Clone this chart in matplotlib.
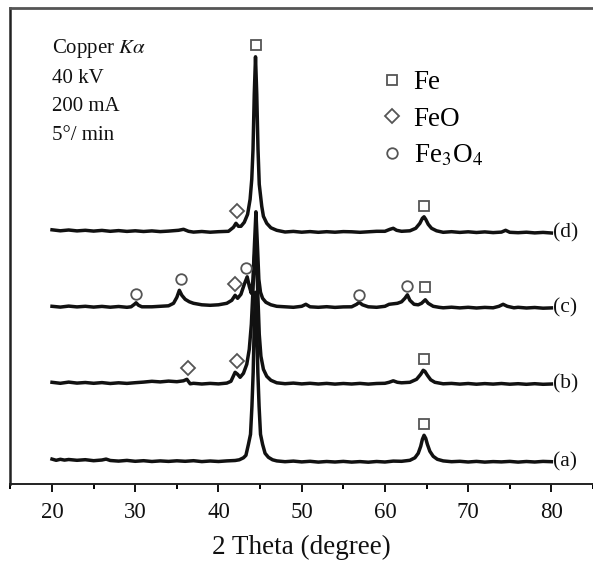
import matplotlib
matplotlib.use("Agg")
import matplotlib.pyplot as plt
from matplotlib.lines import Line2D
import numpy as np

plt.rcParams['font.family'] = ['Liberation Serif', 'DejaVu Serif']
plt.rcParams['mathtext.fontset'] = 'stix'

# ---------------- data (2theta in degrees, intensity in arbitrary units) ----------------
a_x = [20.0, 20.5, 21.0, 21.5, 22.0, 23.0, 24.0, 25.0, 26.0, 26.5, 27.0, 28.0, 29.0, 30.0,
       31.0, 32.0, 33.0, 34.0, 35.0, 36.0, 37.0, 38.0, 39.0, 40.0, 41.0, 42.0, 42.5, 43.0,
       43.3, 43.6, 43.85, 44.02, 44.17, 44.3, 44.45, 44.6, 44.73, 44.88, 45.05, 45.3, 45.6,
       46.0, 46.5, 47.0, 48.0, 49.0, 50.0, 51.0, 52.0, 53.0, 54.0, 55.0, 56.0, 57.0, 58.0,
       59.0, 60.0, 61.0, 62.0, 63.0, 63.6, 64.0, 64.3, 64.5, 64.7, 64.9, 65.1, 65.4, 65.8,
       66.3, 67.0, 68.0, 69.0, 70.0, 71.0, 72.0, 73.0, 74.0, 75.0, 76.0, 77.0, 78.0, 79.0, 80.0]
a_y = [25.2, 24.0, 25.0, 24.2, 24.8, 24.0, 24.6, 23.6, 24.3, 25.2, 23.8, 23.2, 23.9, 23.0,
       23.6, 22.8, 23.4, 22.9, 23.5, 23.0, 23.6, 22.7, 23.3, 22.8, 23.4, 23.8, 24.5, 26.5,
       29.0, 40.0, 50.0, 78.0, 112.0, 160.0, 192.0, 160.0, 112.0, 78.0, 50.0, 40.0, 31.0,
       27.0, 24.5, 23.4, 22.6, 23.2, 22.4, 23.0, 22.2, 22.8, 22.3, 22.9, 22.2, 22.7, 22.1,
       22.8, 22.3, 23.2, 23.0, 24.0, 26.5, 31.0, 38.0, 45.0, 49.0, 46.0, 40.0, 33.0, 28.0,
       25.0, 23.4, 22.6, 23.0, 22.3, 22.9, 22.2, 22.7, 22.4, 22.9, 22.2, 22.8, 22.3, 22.9, 22.6]

b_x = [20.0, 21.0, 22.0, 23.0, 24.0, 25.0, 26.0, 27.0, 28.0, 29.0, 30.0, 31.0, 32.0, 33.0,
       34.0, 35.0, 35.8, 36.2, 36.6, 37.0, 38.0, 39.0, 40.0, 41.0, 41.5, 42.0, 42.3, 42.6,
       43.0, 43.4, 43.7, 43.95, 44.15, 44.3, 44.45, 44.6, 44.75, 44.9, 45.1, 45.4, 45.8,
       46.3, 47.0, 48.0, 49.0, 50.0, 51.0, 52.0, 53.0, 54.0, 55.0, 56.0, 57.0, 58.0, 59.0,
       60.0, 60.5, 61.0, 61.5, 62.0, 63.0, 63.8, 64.3, 64.6, 64.8, 65.1, 65.5, 66.0, 67.0,
       68.0, 69.0, 70.0, 71.0, 72.0, 73.0, 74.0, 75.0, 76.0, 77.0, 78.0, 79.0, 80.0]
b_y = [102.0, 101.0, 102.2, 101.2, 101.8, 101.0, 101.7, 100.8, 101.5, 100.9, 101.6, 102.2, 103.0, 102.4,
       103.2, 102.6, 103.5, 105.0, 100.5, 101.0, 100.3, 100.9, 100.4, 101.2, 103.0, 112.0, 110.0, 107.0,
       111.0, 120.0, 135.0, 160.0, 195.0, 225.0, 240.0, 220.0, 185.0, 150.0, 128.0, 115.0, 108.0,
       104.0, 101.5, 100.6, 101.2, 100.4, 101.0, 100.3, 100.9, 100.2, 100.8, 100.3, 100.9, 100.2, 100.8,
       101.0, 102.0, 103.5, 102.0, 101.5, 102.0, 105.0, 110.0, 114.0, 113.0, 109.0, 104.5, 102.0, 100.5,
       100.9, 100.2, 100.8, 100.1, 100.7, 100.2, 100.8, 100.1, 100.6, 100.0, 100.6, 100.0, 100.3]

c_x = [20.0, 21.0, 22.0, 23.0, 24.0, 25.0, 26.0, 27.0, 28.0, 29.0, 29.5, 29.9, 30.1, 30.4,
       30.8, 32.0, 33.0, 34.0, 34.6, 35.0, 35.3, 35.6, 36.0, 36.5, 37.0, 38.0, 39.0, 40.0,
       41.0, 41.6, 42.0, 42.3, 42.7, 43.1, 43.45, 43.7, 43.95, 44.15, 44.3, 44.5, 44.7, 44.85,
       45.05, 45.3, 45.7, 46.3, 47.0, 48.0, 49.0, 50.0, 50.5, 51.0, 52.0, 53.0, 54.0, 55.0,
       56.0, 56.6, 56.9, 57.3, 58.0, 59.0, 60.0, 60.5, 61.0, 61.5, 62.0, 62.4, 62.7, 63.0,
       63.5, 64.0, 64.4, 64.85, 65.2, 65.8, 66.5, 67.0, 68.0, 69.0, 70.0, 71.0, 72.0, 73.0,
       73.7, 74.2, 74.7, 75.5, 76.0, 77.0, 78.0, 79.0, 80.0]
c_y = [178.0, 177.2, 178.2, 177.4, 178.0, 177.2, 177.9, 177.1, 177.8, 177.0, 177.5, 180.0, 181.5, 179.0,
       177.5, 177.5, 178.0, 178.5, 181.0, 187.0, 194.0, 189.0, 185.0, 182.5, 181.0, 179.5, 179.0, 179.5,
       181.0, 184.0, 189.0, 186.0, 190.0, 200.0, 207.5, 198.0, 191.0, 205.0, 235.0, 272.5, 235.0, 205.0,
       192.0, 186.0, 182.0, 179.5, 178.0, 177.5, 177.0, 178.0, 180.0, 177.5, 177.0, 177.6, 176.9, 177.4,
       177.5, 180.0, 182.0, 179.5, 177.5, 177.0, 178.0, 180.0, 180.5, 181.0, 182.5, 186.0, 189.5, 184.0,
       180.0, 179.5, 181.0, 184.5, 181.0, 178.0, 177.0, 176.5, 177.1, 176.4, 177.0, 176.3, 176.9, 176.5,
       178.0, 180.0, 178.0, 176.5, 177.0, 176.3, 176.8, 176.1, 176.4]

d_x = [20.0, 21.0, 22.0, 23.0, 24.0, 25.0, 26.0, 27.0, 28.0, 29.0, 30.0, 31.0, 32.0, 33.0,
       34.0, 35.2, 35.8, 36.4, 37.0, 38.0, 39.0, 40.0, 41.2, 41.8, 42.1, 42.4, 42.7, 43.1,
       43.5, 43.8, 44.0, 44.15, 44.3, 44.45, 44.6, 44.75, 44.9, 45.2, 45.4, 45.8, 46.3, 47.0,
       48.0, 49.0, 50.0, 51.0, 52.0, 53.0, 54.0, 55.0, 56.0, 57.0, 58.0, 59.0, 60.0, 60.6,
       61.0, 61.4, 62.0, 63.0, 63.7, 64.2, 64.5, 64.7, 64.9, 65.2, 65.6, 66.2, 67.0, 68.0,
       69.0, 70.0, 71.0, 72.0, 73.0, 74.0, 74.5, 75.0, 76.0, 77.0, 78.0, 79.0, 80.0]
d_y = [254.5, 253.5, 254.3, 253.4, 254.0, 253.2, 253.9, 253.0, 253.7, 252.9, 253.5, 252.8, 253.4, 252.7,
       253.2, 254.0, 255.0, 253.0, 252.2, 252.8, 252.1, 252.6, 253.0, 257.0, 261.0, 258.0, 258.0, 262.0,
       270.0, 285.0, 305.0, 335.0, 390.0, 427.5, 390.0, 335.0, 300.0, 278.0, 268.0, 261.0, 256.5, 254.0,
       252.3, 252.9, 252.1, 252.7, 252.0, 252.6, 252.1, 252.7, 252.5, 252.0, 252.5, 253.0, 253.0, 255.0,
       256.0, 254.0, 253.0, 253.5, 256.0, 261.0, 266.0, 267.5, 265.0, 260.0, 256.0, 253.5, 252.0, 252.6,
       251.9, 252.5, 251.8, 252.4, 251.7, 252.2, 254.0, 252.0, 251.6, 252.1, 251.4, 251.9, 251.3]

curves = [(a_x, a_y, '(a)'), (b_x, b_y, '(b)'), (c_x, c_y, '(c)'), (d_x, d_y, '(d)')]

# phase markers: (2theta, intensity) for each phase
fe_x = [44.49, 64.75, 64.87, 64.70, 64.68]
fe_y = [439.3, 278.3, 197.0, 125.3, 60.0]
feo_x = [42.2, 42.04, 36.31, 42.2]
feo_y = [273.8, 200.8, 116.6, 123.8]
fe3o4_x = [30.1, 35.44, 43.32, 56.9, 62.68]
fe3o4_y = [190.3, 205.8, 216.8, 189.3, 198.3]

phase_labels = ['Fe', 'FeO', r'Fe$_3$O$_4$']
info_lines = [r'Copper $K\alpha$', '40 kV', '200 mA', '5°/ min']

xticks = [20, 30, 40, 50, 60, 70, 80]
xminor = [15, 25, 35, 45, 55, 65, 75, 85]

# ---------------- figure ----------------
W, H = 593, 561
fig = plt.figure(figsize=(W / 100, H / 100), dpi=100)
ax_left, ax_right, ax_top, ax_bot = 10.4, 593.0, 8.3, 484.3
ax = fig.add_axes([ax_left / W, (H - ax_bot) / H, (ax_right - ax_left) / W, (ax_bot - ax_top) / H])

line_color = '#111111'
for xs, ys, lab in curves:
    ax.plot(xs, ys, color=line_color, lw=2.5, solid_joinstyle='round')
    ax.text(80.15, ys[-1], lab, fontsize=15.5, ha='left', va='center', color='#111111')

mk = dict(ls='none', mfc='none', mec='#555555', mew=1.3)
ax.plot(fe_x, fe_y, marker='s', ms=7.6, **mk)
ax.plot(feo_x, feo_y, marker='D', ms=6.8, **mk)
ax.plot(fe3o4_x, fe3o4_y, marker='o', ms=7.6, **mk)

ax.set_xlim(15.0, 20 + (ax_right - 52.3) / 8.383)
ax.set_ylim(0, ax_bot - ax_top)
ax.set_xticks(xticks)
ax.set_xticks(xminor, minor=True)
ax.set_yticks([])
ax.tick_params(axis='x', which='major', direction='out', length=6, width=1.4,
               labelsize=16.5, pad=6.5, colors='#111111')
ax.tick_params(axis='x', which='minor', direction='out', length=3.8, width=1.4)
ax.set_xlabel('2 Theta (degree)', fontsize=19.5, labelpad=9, color='#111111')

ax.spines['right'].set_visible(False)
ax.spines['top'].set_color('#555555')
ax.spines['top'].set_linewidth(2.0)
ax.spines['left'].set_color('#222222')
ax.spines['left'].set_linewidth(1.8)
ax.spines['bottom'].set_color('#222222')
ax.spines['bottom'].set_linewidth(1.4)

# legend
handles = [Line2D([], [], marker='s', ms=7.6, **mk),
           Line2D([], [], marker='D', ms=6.8, **mk),
           Line2D([], [], marker='o', ms=7.6, **mk)]
ax.legend(handles, phase_labels, loc='center left',
          bbox_to_anchor=(378.5 / W, 1 - 119.5 / H), bbox_transform=fig.transFigure,
          frameon=False, fontsize=19.5, handlelength=1.0, handletextpad=0.3,
          borderpad=0, borderaxespad=0, labelspacing=0.42)

# acquisition info text
info_y = [48.3, 78.3, 106.7, 135.0]
for txt, yy in zip(info_lines, info_y):
    fig.text(52.5 / W, 1 - yy / H, txt, fontsize=15, ha='left', va='center', color='#111111')

fig.savefig('out.png', dpi=100)
